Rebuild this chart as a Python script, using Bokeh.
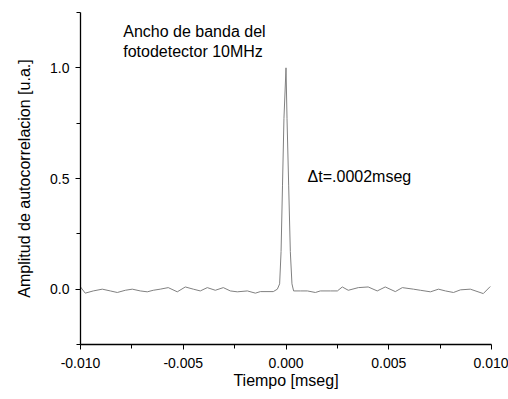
from bokeh.plotting import figure
from bokeh.models import Range1d, FixedTicker, NumeralTickFormatter, Label
from bokeh.embed import file_html
from bokeh.resources import INLINE

# Time axis [mseg] and autocorrelation amplitude [u.a.]
tiempo = [
    -0.01000, -0.00977, -0.00938, -0.00894, -0.00855, -0.00821, -0.00782, -0.00748,
    -0.00709, -0.00675, -0.00646, -0.00612, -0.00573, -0.00529, -0.00490, -0.00451,
    -0.00417, -0.00383, -0.00344, -0.00305, -0.00271, -0.00237, -0.00188, -0.00149,
    -0.00125, -0.00062, -0.00042,
    -0.00031, -0.00024, -0.00017, -0.00010, 0.00000, 0.00005, 0.00013, 0.00021, 0.00029,
    0.00037, 0.00070, 0.00104, 0.00143, 0.00167, 0.00216, 0.00250, 0.00274, 0.00303,
    0.00352, 0.00400, 0.00444, 0.00483, 0.00532, 0.00566, 0.00620, 0.00654, 0.00703,
    0.00742, 0.00776, 0.00815, 0.00849, 0.00897, 0.00960, 0.00994,
]
amplitud = [
    0.010, -0.018, -0.008, 0.000, -0.008, -0.015, -0.005, 0.000,
    -0.008, -0.012, -0.005, 0.000, 0.007, -0.012, 0.010, 0.000,
    -0.008, 0.007, -0.005, 0.007, -0.008, -0.012, -0.008, -0.018,
    -0.011, -0.011, 0.000,
    0.024, 0.170, 0.470, 0.770, 1.000, 0.770, 0.470, 0.170, 0.024,
    -0.008, -0.008, -0.008, -0.015, -0.008, -0.008, -0.008, 0.010, -0.005,
    0.007, 0.010, -0.008, 0.010, -0.011, 0.007, 0.000, -0.005, -0.012,
    0.000, -0.008, -0.015, -0.003, 0.000, -0.020, 0.012,
]

x_ticks = [-0.010, -0.005, 0.000, 0.005, 0.010]
x_minor = [-0.0075, -0.0025, 0.0025, 0.0075]
y_ticks = [0.0, 0.5, 1.0]
y_minor = [-0.25, 0.25, 0.75, 1.25]

FONT = "Liberation Sans"

p = figure(width=508, height=399, output_backend="svg", toolbar_location=None,
           x_range=Range1d(-0.010, 0.010), y_range=Range1d(-0.25, 1.25),
           min_border_left=80, min_border_right=17, min_border_top=12,
           min_border_bottom=55)
p.outline_line_color = None
p.xgrid.visible = False
p.ygrid.visible = False
p.background_fill_color = "white"
p.border_fill_color = "white"

p.line(tiempo, amplitud, line_color="#808080", line_width=1)

for ax in (p.xaxis[0], p.yaxis[0]):
    ax.axis_line_color = "black"
    ax.axis_line_width = 1.3
    ax.major_tick_line_color = "black"
    ax.minor_tick_line_color = "black"
    ax.major_tick_in = 0
    ax.minor_tick_in = 0
    ax.major_tick_out = 5
    ax.minor_tick_out = 4
    ax.major_label_text_font = FONT
    ax.major_label_text_font_size = "14px"
    ax.major_label_text_color = "black"
    ax.axis_label_text_font = FONT
    ax.axis_label_text_font_style = "normal"
    ax.axis_label_text_color = "black"
    ax.axis_label_text_font_size = "16px"

p.xaxis[0].ticker = FixedTicker(ticks=x_ticks, minor_ticks=x_minor)
p.xaxis[0].formatter = NumeralTickFormatter(format="0.000")
p.xaxis[0].axis_label = "Tiempo [mseg]"
p.xaxis[0].major_label_standoff = 8
p.xaxis[0].axis_label_standoff = 1

p.yaxis[0].ticker = FixedTicker(ticks=y_ticks, minor_ticks=y_minor)
p.yaxis[0].formatter = NumeralTickFormatter(format="0.0")
p.yaxis[0].axis_label = "Amplitud de autocorrelacion [u.a.]"
p.yaxis[0].major_label_standoff = 6
p.yaxis[0].axis_label_standoff = 14

for txt, yy in (("Ancho de banda del", 1.165), ("fotodetector 10MHz", 1.076)):
    p.add_layout(Label(x=-0.00792, y=yy, text=txt, text_font=FONT,
                       text_font_size="16px", text_color="black",
                       text_baseline="alphabetic"))
p.add_layout(Label(x=0.00105, y=0.509, text="\u0394t=.0002mseg", text_font=FONT,
                   text_font_size="16px", text_color="black",
                   text_baseline="alphabetic"))

open("out.html", "w").write(file_html(p, INLINE))
